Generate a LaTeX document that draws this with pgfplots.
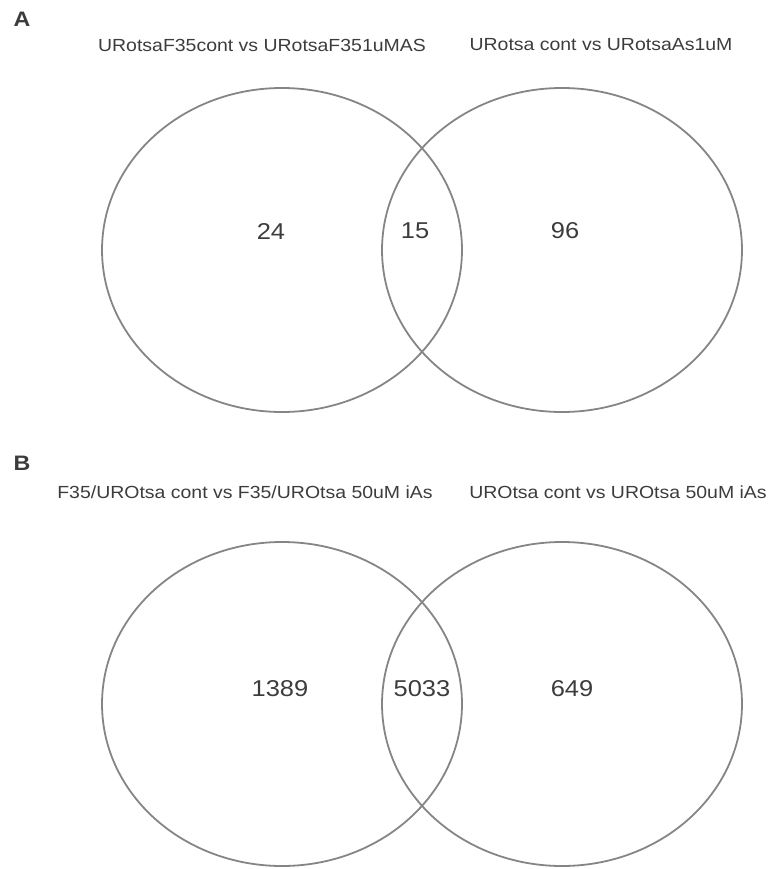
\documentclass[border=0pt]{standalone}
\usepackage{pgfplots}
\pgfplotsset{compat=1.18}
\usepackage{fontspec}
\setmainfont{Liberation Sans}
\newfontfamily\wide[FakeStretch=1.11]{Liberation Sans}
\definecolor{txtg}{HTML}{3C3C3C}
\definecolor{lineg}{HTML}{858585}
\begin{document}
\begin{tikzpicture}
\begin{axis}[x=1bp, y=1bp, xmin=0, xmax=771, ymin=0, ymax=869, y dir=reverse,
  hide axis, clip=false, scale only axis]
\path (axis cs:0,0) rectangle (axis cs:771,869);
% circles (drawn slightly wide, as in the reference)
\addplot[only marks, mark=o, mark size=162bp, mark options={xscale=1.111, draw=lineg, line width=1.8bp}]
  coordinates {(282,250) (562,250) (282,704) (562,704)};
% counts
\addplot[draw=none, mark=none, nodes near coords, point meta=explicit symbolic,
  every node near coord/.append style={anchor=center, font=\wide\fontsize{23}{25}\selectfont, text=txtg}]
  coordinates {(271,231)[24] (415,231)[15] (565,231)[96]
               (280,689)[1389] (422,689)[5033] (572,689)[649]};
% titles
\node[font=\wide\fontsize{17.6}{19}\selectfont, text=txtg] at (axis cs:262,45) {URotsaF35cont vs URotsaF351uMAS};
\node[font=\wide\fontsize{17.6}{19}\selectfont, text=txtg] at (axis cs:601,45) {URotsa cont vs URotsaAs1uM};
\node[font=\wide\fontsize{17.6}{19}\selectfont, text=txtg] at (axis cs:245,492) {F35/UROtsa cont vs F35/UROtsa 50uM iAs};
\node[font=\wide\fontsize{17.6}{19}\selectfont, text=txtg] at (axis cs:618,492) {UROtsa cont vs UROtsa 50uM iAs};
\node[font=\wide\fontsize{21}{23}\selectfont\bfseries, text=txtg] at (axis cs:22,19) {A};
\node[font=\wide\fontsize{21}{23}\selectfont\bfseries, text=txtg] at (axis cs:22,463) {B};
\end{axis}
\end{tikzpicture}
\end{document}
